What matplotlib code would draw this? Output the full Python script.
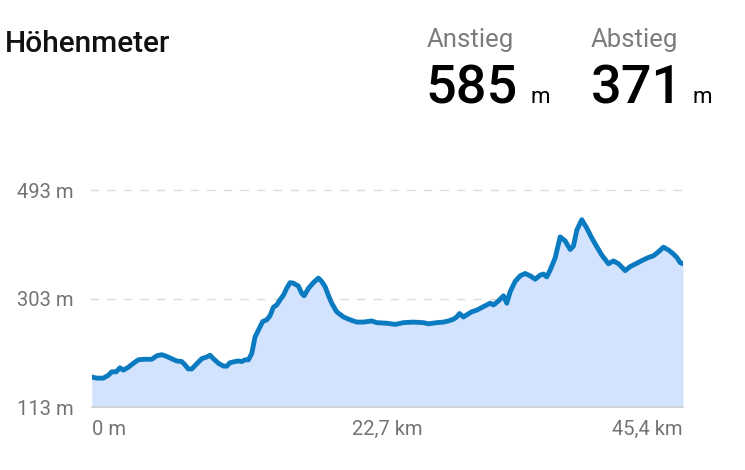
import numpy as np
import matplotlib
matplotlib.use('Agg')
import matplotlib.pyplot as plt

plt.rcParams['font.family'] = ['Roboto', 'DejaVu Sans']

#------------------
# Elevation profile
#------------------

km = [0.0, 0.38, 0.89, 1.28, 1.53, 1.87, 2.17, 2.43, 2.81, 3.20,
      3.58, 3.97, 4.35, 4.61, 4.99, 5.37, 5.76, 6.14, 6.53, 6.91,
      7.17, 7.42, 7.68, 8.06, 8.45, 8.83, 9.09, 9.34, 9.73, 10.11,
      10.37, 10.62, 11.00, 11.26, 11.52, 11.77, 12.03, 12.29, 12.54, 12.80,
      13.13, 13.44, 13.69, 13.95, 14.21, 14.46, 14.72, 14.97, 15.23, 15.49,
      15.87, 16.13, 16.31, 16.64, 17.02, 17.41, 17.66, 17.92, 18.17, 18.43,
      18.81, 19.33, 19.84, 20.35, 20.86, 21.50, 21.89, 22.65, 23.30, 23.93,
      24.70, 25.47, 25.85, 26.50, 27.01, 27.39, 27.77, 28.03, 28.24, 28.54,
      29.18, 29.57, 30.08, 30.59, 30.85, 31.23, 31.62, 31.87, 32.13, 32.51,
      32.90, 33.28, 33.66, 34.05, 34.43, 34.69, 34.94, 35.20, 35.58, 35.97,
      36.35, 36.74, 36.99, 37.25, 37.63, 38.02, 38.40, 38.78, 39.17, 39.68,
      40.06, 40.45, 40.96, 41.34, 41.86, 42.37, 42.75, 43.14, 43.52, 43.90,
      44.29, 44.67, 44.93, 45.18, 45.40]

elev = [166, 164, 164, 169, 175, 175, 182, 178, 183, 190,
        196, 197, 197, 197, 203, 205, 202, 198, 194, 193,
        187, 180, 180, 189, 198, 201, 204, 198, 190, 185,
        185, 191, 193, 194, 193, 196, 196, 207, 236, 248,
        263, 266, 273, 288, 292, 301, 309, 321, 331, 330,
        325, 312, 308, 321, 331, 339, 333, 324, 309, 295,
        280, 271, 266, 262, 262, 264, 261, 260, 258, 261,
        262, 261, 259, 261, 262, 264, 267, 271, 277, 271,
        280, 283, 289, 295, 292, 299, 308, 295, 315, 333,
        343, 347, 343, 337, 344, 346, 341, 353, 374, 411,
        404, 389, 395, 423, 441, 426, 409, 394, 379, 364,
        369, 364, 352, 359, 365, 371, 375, 378, 385, 393,
        388, 381, 375, 366, 364]

yticks = [113, 303, 493]
ytick_labels = ['113 m', '303 m', '493 m']
xticks = [0, 22.7, 45.4]
xtick_labels = ['0 m', '22,7 km', '45,4 km']

title = 'Höhenmeter'
ascent = '585'
descent = '371'

W, H = 745, 470
fig = plt.figure(figsize=(W / 100, H / 100), dpi=100)

# axes placed in pixel units of the reference
left, right, bottom, top = 91.7, 683, 407.3, 190
ax = fig.add_axes([left / W, 1 - bottom / H, (right - left) / W, (bottom - top) / H])

line_col = '#0a7bc0'
fill_col = '#d3e3fd'

ax.fill_between(km, elev, yticks[0], color=fill_col, lw=0, zorder=1)
ax.plot(km, elev, color=line_col, lw=3.5, solid_joinstyle='round', solid_capstyle='round', zorder=3)

for yv in yticks[1:]:
    ax.axhline(yv, color='#dcdcdc', lw=1, ls=(0, (6, 6)), clip_on=False, zorder=0,
               xmin=-0.003, xmax=1.005)
ax.axhline(yticks[0], color='#d0d0d0', lw=1.2, clip_on=False, zorder=2)

ax.set_xlim(0, 45.4)
ax.set_ylim(113, 493)
for s in ax.spines.values():
    s.set_visible(False)

ax.set_yticks(yticks)
ax.set_yticklabels(ytick_labels, fontsize=14.5, color='#737373')
ax.set_xticks(xticks)
ax.set_xticklabels(xtick_labels, fontsize=14.5, color='#737373')
ax.tick_params(axis='y', length=0, pad=13)
ax.tick_params(axis='x', length=0, pad=9)
xl = ax.get_xticklabels()
xl[0].set_ha('left')
xl[2].set_ha('right')

def px(x, y):
    return x / W, 1 - y / H

fig.text(*px(5, 51.5), title, fontsize=21.5, fontweight='medium', color='#111111', va='baseline')
fig.text(*px(427, 46.7), 'Anstieg', fontsize=18.5, color='#7a7d80', va='baseline')
fig.text(*px(591, 46.7), 'Abstieg', fontsize=18.5, color='#7a7d80', va='baseline')
fig.text(*px(425, 103.3), ascent, fontsize=39, fontweight='medium', color='#000000', va='baseline')
fig.text(*px(530, 103.3), 'm', fontsize=16, color='#000000', va='baseline')
fig.text(*px(591, 103.3), descent, fontsize=39, fontweight='medium', color='#000000', va='baseline')
fig.text(*px(692, 103.3), 'm', fontsize=16, color='#000000', va='baseline')

fig.savefig('out.png', dpi=100)
